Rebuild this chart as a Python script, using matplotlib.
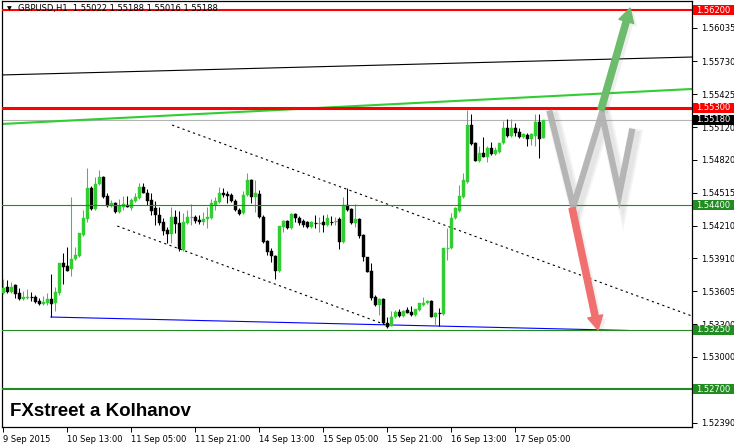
#GBPUSD H1 - график со свечами и разметкой
import matplotlib
matplotlib.use('Agg')
import matplotlib.pyplot as plt
import matplotlib.transforms as mtransforms
import matplotlib.patheffects as pe
from matplotlib.patches import Rectangle, FancyArrowPatch

#Свечи (open, high, low, close), 9 Sep 21:00 ... 17 Sep
opens = [1.53589, 1.53644, 1.53598, 1.53662, 1.53589, 1.53533, 1.53542, 1.53552, 1.53552, 1.53515,
         1.53487, 1.53496, 1.53533, 1.53496, 1.53589, 1.53865, 1.53838, 1.53810, 1.53902, 1.53930,
         1.54124, 1.54272, 1.54558, 1.54365, 1.54595, 1.54659, 1.54484, 1.54392, 1.54420, 1.54337,
         1.54383, 1.54405, 1.54374, 1.54438, 1.54466, 1.54567, 1.54512, 1.54447, 1.54374, 1.54309,
         1.54244, 1.54170, 1.54133, 1.54290, 1.54235, 1.53986, 1.54235, 1.54290, 1.54290, 1.54263,
         1.54244, 1.54272, 1.54281, 1.54401, 1.54429, 1.54512, 1.54503, 1.54494, 1.54438, 1.54355,
         1.54327, 1.54494, 1.54631, 1.54475, 1.54503, 1.54290, 1.54069, 1.53976, 1.53930, 1.53792,
         1.54198, 1.54253, 1.54189, 1.54318, 1.54281, 1.54253, 1.54244, 1.54198, 1.54244, 1.54235,
         1.54244, 1.54216, 1.54253, 1.54253, 1.54272, 1.54059, 1.54401, 1.54365, 1.54235, 1.54272,
         1.54124, 1.53921, 1.53792, 1.53552, 1.53478, 1.53533, 1.53312, 1.53284, 1.53367, 1.53413,
         1.53376, 1.53430, 1.53413, 1.53386, 1.53432, 1.53478, 1.53496, 1.53515, 1.53367, 1.53404,
         1.53395, 1.54004, 1.54004, 1.54281, 1.54346, 1.54475, 1.54613, 1.55139, 1.54973, 1.54807,
         1.54881, 1.54844, 1.54927, 1.54871, 1.54890, 1.54973, 1.55112, 1.55038, 1.55112, 1.55075,
         1.55028, 1.55047, 1.55010, 1.55038, 1.55167, 1.55022]
highs = [1.53718, 1.53709, 1.53690, 1.53670, 1.53635, 1.53607, 1.53626, 1.53598, 1.53570, 1.53542,
         1.53561, 1.53589, 1.53764, 1.53644, 1.53870, 1.53958, 1.54013, 1.54475, 1.54013, 1.54145,
         1.54355, 1.54742, 1.54576, 1.54659, 1.54724, 1.54665, 1.54512, 1.54447, 1.54429, 1.54457,
         1.54484, 1.54484, 1.54466, 1.54512, 1.54604, 1.54604, 1.54549, 1.54512, 1.54438, 1.54383,
         1.54281, 1.54198, 1.54383, 1.54355, 1.54346, 1.54327, 1.54355, 1.54411, 1.54309, 1.54309,
         1.54337, 1.54383, 1.54457, 1.54475, 1.54567, 1.54558, 1.54530, 1.54512, 1.54457, 1.54374,
         1.54530, 1.54696, 1.54640, 1.54631, 1.54540, 1.54309, 1.54078, 1.54004, 1.53939, 1.54210,
         1.54263, 1.54260, 1.54327, 1.54327, 1.54300, 1.54272, 1.54253, 1.54250, 1.54309, 1.54290,
         1.54309, 1.54318, 1.54300, 1.54290, 1.54290, 1.54475, 1.54558, 1.54374, 1.54411, 1.54280,
         1.54130, 1.53925, 1.53865, 1.53570, 1.53540, 1.53542, 1.53367, 1.53422, 1.53432, 1.53441,
         1.53432, 1.53459, 1.53469, 1.53445, 1.53500, 1.53552, 1.53524, 1.53524, 1.53410, 1.53450,
         1.54004, 1.54189, 1.54327, 1.54383, 1.54585, 1.54696, 1.55278, 1.55241, 1.54982, 1.54945,
         1.55028, 1.54945, 1.54982, 1.54936, 1.54973, 1.55176, 1.55195, 1.55195, 1.55158, 1.55112,
         1.55065, 1.55065, 1.55065, 1.55241, 1.55241, 1.55188]
lows = [1.53579, 1.53589, 1.53589, 1.53542, 1.53524, 1.53524, 1.53533, 1.53515, 1.53496, 1.53478,
        1.53478, 1.53478, 1.53367, 1.53422, 1.53570, 1.53672, 1.53790, 1.53746, 1.53893, 1.53921,
        1.54115, 1.54244, 1.54355, 1.54355, 1.54585, 1.54466, 1.54383, 1.54383, 1.54327, 1.54327,
        1.54355, 1.54383, 1.54355, 1.54429, 1.54460, 1.54510, 1.54401, 1.54309, 1.54216, 1.54216,
        1.54124, 1.54050, 1.54050, 1.54142, 1.53976, 1.53976, 1.54226, 1.54216, 1.54235, 1.54226,
        1.54216, 1.54189, 1.54272, 1.54355, 1.54420, 1.54475, 1.54420, 1.54429, 1.54346, 1.54309,
        1.54320, 1.54484, 1.54420, 1.54337, 1.54285, 1.54050, 1.53939, 1.53874, 1.53718, 1.53783,
        1.54152, 1.54180, 1.54180, 1.54244, 1.54216, 1.54198, 1.54189, 1.54189, 1.54189, 1.54152,
        1.54152, 1.54207, 1.54216, 1.54216, 1.53995, 1.54050, 1.54350, 1.54230, 1.54198, 1.54096,
        1.53884, 1.53780, 1.53524, 1.53469, 1.53386, 1.53305, 1.53270, 1.53280, 1.53360, 1.53367,
        1.53367, 1.53400, 1.53376, 1.53376, 1.53422, 1.53469, 1.53487, 1.53365, 1.53284, 1.53284,
        1.53386, 1.53893, 1.53995, 1.54272, 1.54337, 1.54470, 1.54605, 1.54955, 1.54805, 1.54800,
        1.54840, 1.54798, 1.54862, 1.54865, 1.54881, 1.54965, 1.55028, 1.55028, 1.55038, 1.55019,
        1.55019, 1.54945, 1.54955, 1.54945, 1.54835, 1.55016]
closes = [1.53635, 1.53598, 1.53644, 1.53579, 1.53533, 1.53552, 1.53552, 1.53548, 1.53505, 1.53487,
          1.53505, 1.53533, 1.53487, 1.53598, 1.53865, 1.53829, 1.53795, 1.53902, 1.53939, 1.54142,
          1.54281, 1.54558, 1.54365, 1.54595, 1.54659, 1.54475, 1.54392, 1.54420, 1.54337, 1.54392,
          1.54411, 1.54385, 1.54447, 1.54475, 1.54567, 1.54515, 1.54438, 1.54346, 1.54309, 1.54235,
          1.54161, 1.54133, 1.54290, 1.54226, 1.53995, 1.54244, 1.54290, 1.54290, 1.54253, 1.54244,
          1.54272, 1.54290, 1.54420, 1.54438, 1.54512, 1.54494, 1.54484, 1.54438, 1.54355, 1.54318,
          1.54494, 1.54631, 1.54475, 1.54512, 1.54290, 1.54059, 1.53967, 1.53930, 1.53792, 1.54207,
          1.54253, 1.54189, 1.54318, 1.54281, 1.54235, 1.54216, 1.54198, 1.54244, 1.54235, 1.54244,
          1.54216, 1.54281, 1.54244, 1.54253, 1.54059, 1.54401, 1.54358, 1.54235, 1.54272, 1.54115,
          1.53921, 1.53783, 1.53542, 1.53478, 1.53533, 1.53312, 1.53275, 1.53367, 1.53413, 1.53376,
          1.53422, 1.53405, 1.53386, 1.53441, 1.53496, 1.53496, 1.53515, 1.53370, 1.53404, 1.53399,
          1.54000, 1.54010, 1.54281, 1.54374, 1.54484, 1.54631, 1.55139, 1.54964, 1.54810, 1.54881,
          1.54847, 1.54927, 1.54871, 1.54908, 1.54970, 1.55112, 1.55038, 1.55112, 1.55065, 1.55028,
          1.55056, 1.55010, 1.55056, 1.55167, 1.55010, 1.55188]

#Подписи оси времени (каждые 16 баров)
time_labels = ['9 Sep 2015', '10 Sep 13:00', '11 Sep 05:00', '11 Sep 21:00', '14 Sep 13:00',
               '15 Sep 05:00', '15 Sep 21:00', '16 Sep 13:00', '17 Sep 05:00']
label_step = 16
price_ticks = [1.56035, 1.55730, 1.55425, 1.55120, 1.54820, 1.54515, 1.54210,
               1.53910, 1.53605, 1.53300, 1.53000, 1.52390]

#Горизонтальные уровни
level_prices = [1.56200, 1.55300, 1.54400, 1.53250, 1.52700]
level_colors = ['#FF0000', '#FF0000', '#228B22', '#228B22', '#228B22']
level_widths = [1.5, 2.2, 0.8, 0.8, 1.5]
bid_price = 1.55188
bid_text = '1.55180'

#Трендовые линии (бар, цена)
black_trend = ([-0.8, 172.2], [1.55601, 1.55767])
green_trend = ([-0.8, 172.2], [1.55148, 1.55472])
blue_trend = ([11.9, 156.2], [1.53367, 1.53243])
upper_channel = ([42.2, 172.2], [1.55139, 1.53376])
lower_channel = ([28.5, 95.4], [1.54207, 1.53298])

#Прогноз
w_bars = [136.7, 142.5, 149.6, 154.0, 157.1]
w_prices = [1.55247, 1.54385, 1.55247, 1.54502, 1.55077]
up_arrow = ((149.4, 1.55278), (156.7, 1.56219))
down_arrow = ((142.2, 1.54373), (148.7, 1.53247))

W, H = 734, 445
fig = plt.figure(figsize=(W / 100, H / 100), dpi=100)
ax = fig.add_axes([2 / W, 18 / H, 690 / W, 426 / H])
ax.set_xlim(-0.325, 172.175)
ax.set_ylim(1.52352, 1.56284)
px = (1.56284 - 1.52352) / 426  # цена на пиксель

#Свечи
for i in range(len(opens)):
    o, h, l, c = opens[i], highs[i], lows[i], closes[i]
    if c > o:
        col = '#32CD32'
    elif c < o:
        col = '#000000'
    else:
        col = '#8C8C8C'
    ax.vlines(i, l, h, color=col, lw=0.75, zorder=3)
    if abs(c - o) < px:
        ax.hlines((o + c) / 2, i - 0.4, i + 0.4, color=col, lw=0.9, zorder=3)
    else:
        ax.bar(i, c - o, bottom=o, width=0.72, color=col, edgecolor=col, lw=0.3, zorder=3)

#Уровни
for p, col, lw in zip(level_prices, level_colors, level_widths):
    ax.axhline(p, color=col, lw=lw, zorder=4)
ax.axhline(bid_price, color='#B4B4B4', lw=0.8, zorder=2)

#Тренды
ax.plot(*black_trend, color='black', lw=0.8, zorder=2)
ax.plot(*green_trend, color='#32CD32', lw=1.5, zorder=2)
ax.plot(*blue_trend, color='#0000FF', lw=0.8, zorder=2)
ax.plot(*upper_channel, color='black', lw=0.8, ls=(0, (2, 3)), zorder=2)
ax.plot(*lower_channel, color='black', lw=0.8, ls=(0, (2, 3)), zorder=2)

#Прогноз: W и стрелки (размытая тень - несколько слоёв)
line_shadow = [pe.SimpleLineShadow(offset=(2.5, -2.5), shadow_color='#808080', alpha=0.07, linewidth=w)
               for w in (10, 8, 6)] + [pe.Normal()]
patch_shadow = [pe.SimplePatchShadow(offset=(2.5, -2.5), shadow_rgbFace='#808080', alpha=0.12),
                pe.Normal()]
ax.plot(w_bars, w_prices, color='#B0B0B0', lw=4.5, alpha=0.9, solid_joinstyle='miter',
        path_effects=line_shadow, zorder=5)
for (start, end), col in [(up_arrow, '#6DBB6D'), (down_arrow, '#F07070')]:
    arr = FancyArrowPatch(start, end, arrowstyle='simple,head_length=10,head_width=11,tail_width=4.5',
                          mutation_scale=1, color=col, zorder=6, shrinkA=0, shrinkB=0,
                          path_effects=patch_shadow)
    ax.add_patch(arr)

#Оси
ax.yaxis.tick_right()
ax.set_yticks(price_ticks)
ax.set_yticklabels(['%.5f' % p for p in price_ticks])
xt = list(range(0, label_step * len(time_labels), label_step))
ax.set_xticks(xt)
ax.set_xticklabels(time_labels, ha='left')
ax.tick_params(axis='both', labelsize=6, length=3.5, width=0.7, colors='black', pad=2)
ax.tick_params(axis='y', pad=3)
for s in ax.spines.values():
    s.set_linewidth(0.9)

#Метки уровней справа
tr = mtransforms.blended_transform_factory(fig.transFigure, ax.transData)
boxes = list(zip(level_prices, ['%.5f' % p for p in level_prices], level_colors))
boxes.append((bid_price, bid_text, '#000000'))
for p, txt, col in boxes:
    ax.add_patch(Rectangle((693 / W, p - 5 * px), 41 / W, 10 * px, transform=tr,
                           facecolor=col, edgecolor='none', clip_on=False, zorder=7))
    ax.text(696 / W, p, txt, transform=tr, color='white', fontsize=6, va='center',
            ha='left', clip_on=False, zorder=8)

#Заголовок и подпись
fig.text(7 / W, 1 - 9 / H, '\u25BC', fontsize=4.5, va='center', ha='left')
fig.text(18 / W, 1 - 9 / H, 'GBPUSD,H1  1.55022 1.55188 1.55016 1.55188', fontsize=6,
         va='center', ha='left', zorder=1)
ax.text(8 / 690, 1 - 410 / 426, 'FXstreet a Kolhanov', transform=ax.transAxes,
        fontsize=13.5, fontweight='bold', family='Liberation Sans', va='center', ha='left', zorder=9)

fig.savefig('out.png', dpi=100)
